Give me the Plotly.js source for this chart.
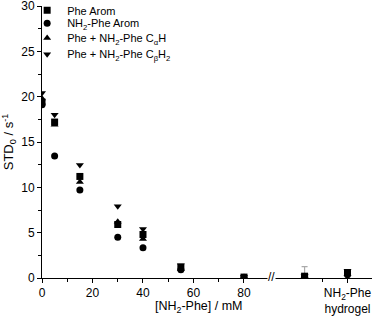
<!DOCTYPE html>
<html><head><meta charset="utf-8">
<script src="https://cdn.plot.ly/plotly-3.0.1.min.js"></script>
<style>html,body{margin:0;padding:0;background:#fff}#chart{width:372px;height:322px}</style>
</head><body><div id="chart"></div>
<script>
// x positions: concentrations in mM; 104 = unlabeled point after the break, 121 = NH2-Phe hydrogel
const xVals = [0, 5, 15, 30, 40, 55, 80, 104, 121];
const pheArom      = [19.4, 17.2, 11.2, 5.9, 4.8, 1.2, 0.1, 0.2, 0.6];
const nh2PheArom   = [19.1, 13.45, 9.7, 4.5, 3.35, 0.9, 0.05, 0.15, 0.35];
const cAlphaH      = [19.8, 16.9, 10.6, 6.2, 4.3, 1.0, 0.1, 0.2, 0.4];
const cBetaH2      = [20.4, 18.0, 12.45, 7.9, 5.4, 1.4, 0.15, 0.2, 0.8];
const errPheArom   = [0, 0, 0, 0, 0, 0, 0, 1.05, 0];
const seriesNames = ['Phe Arom', 'NH<sub>2</sub>-Phe Arom', 'Phe + NH<sub>2</sub>-Phe C<sub>α</sub>H', 'Phe + NH<sub>2</sub>-Phe C<sub>β</sub>H<sub>2</sub>'];
const xTickVals = [0, 20, 40, 60, 80, 121];
const xTickText = ['0', '20', '40', '60', '80', 'NH<sub>2</sub>-Phe<br>hydrogel'];
const xTitle = '[NH<sub>2</sub>-Phe] / mM';
const yTitle = 'STD<sub>0</sub> / s<sup>-1</sup>';
const breakAt = 91;

const symbols = ['square', 'circle', 'triangle-up', 'triangle-down'];
const legendIds = ['legend', 'legend2', 'legend3', 'legend4'];
const legendY = [0.984, 0.937, 0.882, 0.823];
const ys = [pheArom, nh2PheArom, cAlphaH, cBetaH2];
const traces = ys.map((y, i) => {
  const t = {
    x: xVals, y: y, type: 'scatter', mode: 'markers', name: seriesNames[i], legend: legendIds[i],
    marker: {symbol: symbols[i], size: 7, color: '#000'}
  };
  if (i === 0) {
    t.error_y = {type: 'data', symmetric: false, array: errPheArom, arrayminus: xVals.map(() => 0),
      color: '#aaa', thickness: 1.2, width: 3};
  }
  return t;
});

const layout = {
  width: 372, height: 322,
  margin: {l: 42, r: 0, t: 6, b: 44, autoexpand: false},
  paper_bgcolor: '#fff', plot_bgcolor: '#fff',
  font: {family: 'Liberation Sans, Arial, sans-serif', color: '#000', size: 12},
  showlegend: true,
  xaxis: {
    range: [0, 130.7], showgrid: false, zeroline: false, showline: true, linecolor: '#000', linewidth: 1,
    ticks: 'outside', ticklen: 4, tickcolor: '#000', tickvals: xTickVals, ticktext: xTickText,
    minor: {tickvals: [10, 30, 50, 70, 111], ticks: 'outside', ticklen: 3, tickcolor: '#000'},
    tickfont: {size: 12}, ticklabeloverflow: 'allow'
  },
  yaxis: {
    range: [0, 30], showgrid: false, zeroline: false, showline: true, linecolor: '#000', linewidth: 1,
    ticks: 'outside', ticklen: 4, tickcolor: '#000', tickvals: [0, 5, 10, 15, 20, 25, 30],
    minor: {dtick: 2.5, ticks: 'outside', ticklen: 3, tickcolor: '#000'},
    tickfont: {size: 12}, ticklabeloverflow: 'allow',
    title: {text: yTitle, font: {size: 13}, standoff: 6}
  },
  annotations: [{
    x: breakAt, y: 0, xref: 'x', yref: 'y', text: '//', showarrow: false,
    font: {size: 12, color: '#000'}, bgcolor: '#fff', borderpad: 0, yshift: 1
  }, {
    x: 0.5, y: -0.108, xref: 'paper', yref: 'paper', text: xTitle, showarrow: false,
    font: {size: 12.5, color: '#000'}, xanchor: 'center', yanchor: 'middle', xshift: -8
  }]
};
legendIds.forEach((id, i) => {
  layout[id] = {x: -0.045, y: legendY[i], xanchor: 'left', yanchor: 'middle', bgcolor: 'rgba(0,0,0,0)',
    font: {size: 11}, itemwidth: 30, borderwidth: 0};
});
Plotly.newPlot('chart', traces, layout, {displayModeBar: false, staticPlot: true});
</script>
</body></html>
